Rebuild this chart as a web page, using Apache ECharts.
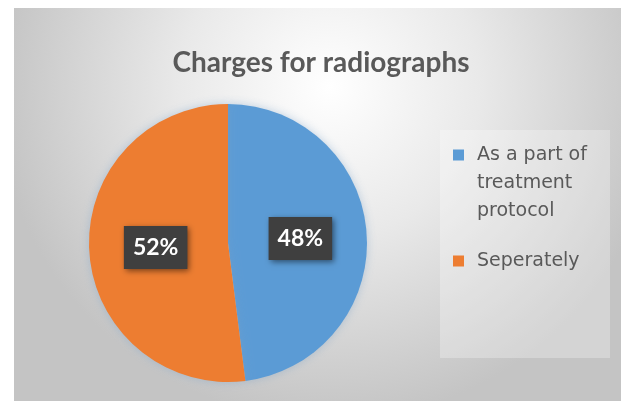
<!DOCTYPE html>
<html>
<head>
<meta charset="utf-8">
<script src="https://cdn.jsdelivr.net/npm/echarts@6/dist/echarts.min.js"></script>
<style>
html,body{margin:0;padding:0;background:#fff;}
#chart{width:629px;height:407px;}
</style>
</head>
<body>
<div id="chart"></div>
<script>
var titleText = "Charges for radiographs";
var categories = ["As a part of treatment protocol", "Seperately"];
var legendLines = [["As a part of", "treatment", "protocol"], ["Seperately"]];
var values = [48, 52];
var colors = ["#5B9BD5", "#ED7D31"];

var chart = echarts.init(document.getElementById('chart'), null, {renderer: 'canvas'});
var data = categories.map(function (c, i) {
  return {name: c, value: values[i], itemStyle: {color: colors[i]}};
});
var legendFont = 'DejaVu Sans';
chart.setOption({
  backgroundColor: '#ffffff',
  animation: false,
  graphic: [
    {
      type: 'rect', z: -10, silent: true,
      shape: {x: 14, y: 8, width: 607, height: 393},
      style: {
        fill: {
          type: 'radial', x: 0.52, y: 0.2, r: 0.85, global: false,
          colorStops: [
            {offset: 0, color: '#ffffff'},
            {offset: 0.45, color: '#e9e9e9'},
            {offset: 1, color: '#c4c4c4'}
          ]
        }
      }
    },
    {
      type: 'rect', z: -5, silent: true,
      shape: {x: 440, y: 130, width: 170, height: 228},
      style: {fill: 'rgba(255,255,255,0.28)'}
    }
  ],
  title: {
    text: titleText,
    left: 316, top: 44, textAlign: 'center',
    textStyle: {fontFamily: 'Lato', fontSize: 28, fontWeight: 'bold', color: '#595959'}
  },
  legend: {
    orient: 'vertical',
    left: 443, top: 136,
    itemWidth: 0, itemHeight: 0, itemGap: 22,
    icon: 'rect',
    data: categories,
    formatter: function (name) {
      var i = categories.indexOf(name);
      var lines = legendLines[i];
      return lines.map(function (l, k) {
        return (k === 0 ? '{sq' + i + '|}{gap|}' : '{ind|}') + '{t|' + l + '}';
      }).join('\n');
    },
    textStyle: {
      fontFamily: legendFont, fontSize: 19, color: '#595959', lineHeight: 28,
      rich: {
        sq0: {width: 11, height: 11, backgroundColor: colors[0]},
        sq1: {width: 11, height: 11, backgroundColor: colors[1]},
        gap: {width: 13},
        ind: {width: 24},
        t: {fontFamily: legendFont, fontSize: 19, color: '#595959', lineHeight: 28}
      }
    }
  },
  series: [{
    type: 'pie',
    center: [228, 243],
    radius: [0, 139],
    startAngle: 90,
    clockwise: true,
    data: data,
    itemStyle: {
      shadowBlur: 10, shadowColor: 'rgba(120,160,200,0.45)'
    },
    label: {
      show: true,
      position: 'inside',
      formatter: '{d}%',
      fontFamily: 'Lato', fontSize: 23, fontWeight: 'bold', color: '#ffffff',
      lineHeight: 22,
      backgroundColor: '#3f3f3f',
      padding: [11, 9, 10, 9],
      shadowBlur: 6, shadowColor: 'rgba(0,0,0,0.5)', shadowOffsetX: 2, shadowOffsetY: 2
    },
    labelLine: {show: false}
  }]
});
</script>
</body>
</html>
